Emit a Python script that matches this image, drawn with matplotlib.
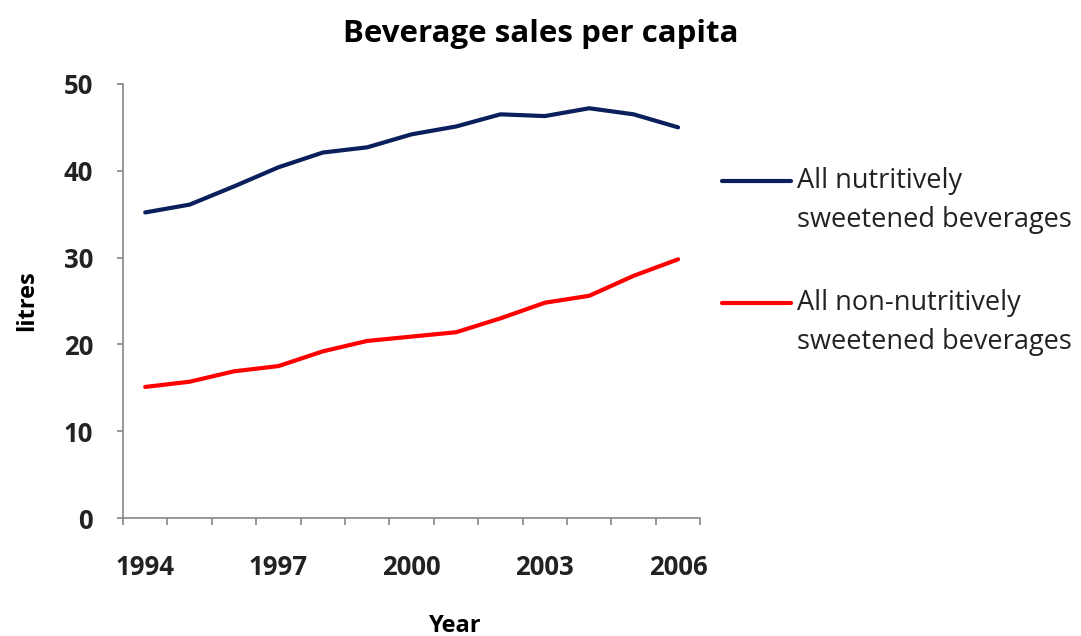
import numpy as np
import matplotlib.pyplot as plt
from matplotlib.legend_handler import HandlerLine2D
from matplotlib.ticker import FixedLocator

plt.rcParams["font.family"] = ["Open Sans", "DejaVu Sans"]

# data
years = [1994, 1995, 1996, 1997, 1998, 1999, 2000, 2001, 2002, 2003, 2004, 2005, 2006]
nutritive = [35.2, 36.1, 38.2, 40.4, 42.1, 42.7, 44.2, 45.1, 46.5, 46.3, 47.2, 46.5, 45.0]
non_nutritive = [15.1, 15.7, 16.9, 17.5, 19.2, 20.4, 20.9, 21.4, 23.0, 24.8, 25.6, 27.9, 29.8]
labels = ["All nutritively\nsweetened beverages", "All non-nutritively\nsweetened beverages"]
colors = ["#0A1F5C", "#FF0000"]
shown_years = [1994, 1997, 2000, 2003, 2006]
axis_grey = "#868686"


class FirstLineHandler(HandlerLine2D):
    # put legend line next to the first text line, like Excel does
    def create_artists(self, legend, orig_handle, xdescent, ydescent,
                       width, height, fontsize, trans):
        artists = super().create_artists(legend, orig_handle, xdescent, ydescent,
                                         width, height, fontsize, trans)
        for a in artists:
            a.set_ydata(np.asarray(a.get_ydata()) + 0.77 * fontsize)
        return artists


fig = plt.figure(figsize=(10.81, 6.36), dpi=100)
ax = fig.add_axes([0.1138, 0.1855, 0.534, 0.6825])

x = np.arange(len(years))
ax.plot(x, nutritive, color=colors[0], lw=3, label=labels[0], solid_capstyle="round")
ax.plot(x, non_nutritive, color=colors[1], lw=3, label=labels[1], solid_capstyle="round")

ax.set_xlim(-0.5, len(years) - 0.5)
ax.set_ylim(0, 50)
ax.set_yticks([0, 10, 20, 30, 40, 50])

# category axis: tick marks between categories, labels every 3rd year
ax.xaxis.set_major_locator(FixedLocator(np.arange(len(years) + 1) - 0.5))
ax.xaxis.set_major_formatter(plt.NullFormatter())
ax.xaxis.set_minor_locator(FixedLocator([years.index(y) for y in shown_years]))
ax.set_xticklabels([str(y) for y in shown_years], minor=True)
ax.tick_params(axis="x", which="major", length=5, width=1.2, color=axis_grey, direction="out")
ax.tick_params(axis="x", which="minor", length=0, pad=26, labelsize=18.5)
ax.tick_params(axis="y", length=4.5, width=1.2, color=axis_grey, pad=17, labelsize=18.5)
for t in ax.get_xticklabels(minor=True) + ax.get_yticklabels():
    t.set_fontweight("bold")
    t.set_color("#222222")

for side in ["top", "right"]:
    ax.spines[side].set_visible(False)
for side in ["left", "bottom"]:
    ax.spines[side].set_color(axis_grey)
    ax.spines[side].set_linewidth(1.2)

ax.set_ylabel("litres", fontsize=17, fontweight="bold", labelpad=18)
ax.set_xlabel("Year", fontsize=17, fontweight="bold")
ax.xaxis.set_label_coords(0.575, -0.22)

fig.suptitle("Beverage sales per capita", x=0.5, y=0.97, fontsize=22.5, fontweight="bold")

leg = ax.legend(loc="upper left", bbox_to_anchor=(0.995, 0.865), frameon=False,
                fontsize=19.5, handlelength=2.55, handletextpad=0.22, labelspacing=2.0,
                handler_map={plt.Line2D: FirstLineHandler()})
for t in leg.get_texts():
    t.set_linespacing(1.55)
    t.set_color("#222222")

fig.savefig("out.png", dpi=100)
